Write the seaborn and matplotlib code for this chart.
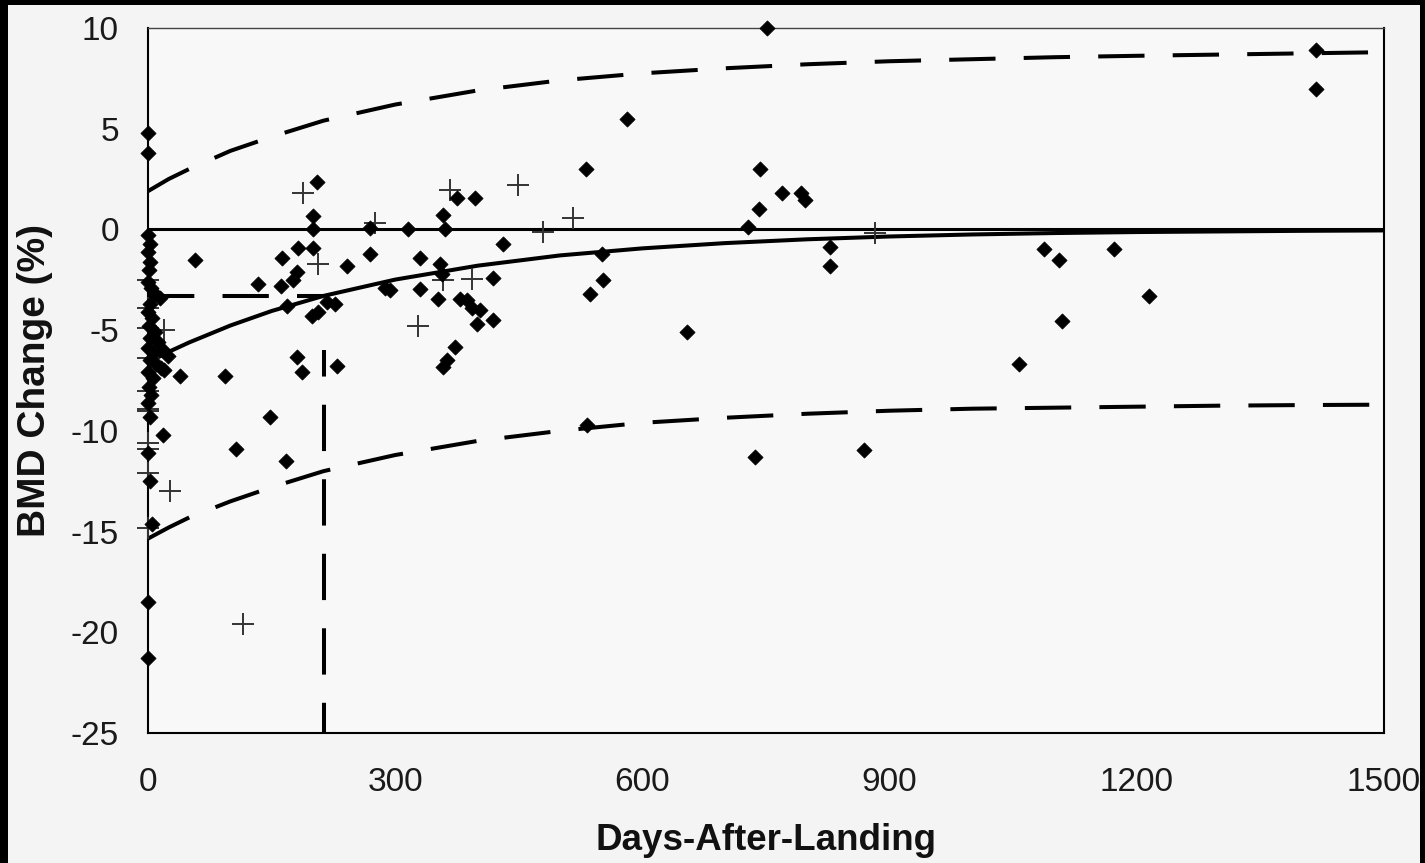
import matplotlib
matplotlib.use("Agg")
import matplotlib.pyplot as plt
import seaborn as sns
import pandas as pd
from matplotlib.patches import Rectangle

# ---- data ----
diamond_days = [0, 0, 0, 2, 0, 3, 1, 0, 4, 8, 14, 2, 0, 5, 1, 8, 3, 12, 0, 6, 18, 24, 2, 10, 16, 0, 6, 20,
                1, 4, 0, 2, 18, 0, 2, 5, 0, 0,
                39, 57, 93, 107, 133, 148, 162, 163, 167, 169, 176, 181, 181, 182, 187, 199, 200, 200, 200,
                205, 206, 217, 227, 229, 241, 270, 270, 288, 294, 316, 330, 330, 352, 354, 357, 358, 358,
                360, 363, 373, 375, 379, 387, 393, 397, 399, 403, 419, 419, 431, 532, 533, 536, 551, 552,
                581, 654, 728, 737, 741, 743, 751, 770, 793, 797, 828, 828, 869, 1057, 1087, 1106, 1109,
                1172, 1215, 1418, 1418]
diamond_bmd = [4.8, 3.8, -0.3, -0.7, -1.1, -1.6, -2.0, -2.6, -2.9, -3.2, -3.4, -3.7, -4.1, -4.4, -4.8, -5.1,
               -5.4, -5.6, -5.9, -6.1, -6.0, -6.3, -6.5, -6.7, -6.9, -7.1, -7.4, -7.0,
               -7.8, -8.2, -8.6, -9.3, -10.2, -11.1, -12.5, -14.6, -18.5, -21.3,
               -7.3, -1.5, -7.3, -10.9, -2.7, -9.3, -2.8, -1.4, -11.5, -3.8, -2.5, -2.1, -6.35, -0.9, -7.1,
               -4.3, -0.9, 0.0, 0.65, 2.35, -4.1, -3.6, -3.7, -6.8, -1.8, -1.2, 0.05, -2.9, -3.0, 0.0, -1.4,
               -2.95, -3.45, -1.7, -2.2, 0.7, -6.85, 0.0, -6.5, -5.85, 1.55, -3.45, -3.5, -3.9, 1.55, -4.7,
               -4.0, -2.4, -4.5, -0.7, 3.0, -9.7, -3.2, -1.2, -2.5, 5.5, -5.1, 0.1, -11.3, 1.0, 3.0, 10.0,
               1.8, 1.8, 1.45, -0.85, -1.8, -10.95, -6.7, -0.95, -1.5, -4.55, -0.95, -3.3, 8.9, 6.95]

plus_days = [0, 0, 0, 0, 0, 0, 0, 0, 0, 0, 0, 20, 27, 115, 188, 206, 276, 328, 358, 367, 393, 449, 479, 516, 882]
plus_bmd = [-2.5, -3.9, -4.9, -6.4, -8.0, -8.9, -9.0, -10.6, -10.9, -12.1, -14.8, -5.0, -13.0, -19.6, 1.8,
            -1.7, 0.3, -4.8, -2.5, 1.95, -2.45, 2.2, -0.15, 0.55, -0.2]

curve_days = [0, 25, 50, 100, 150, 213, 300, 400, 500, 600, 700, 800, 900, 1000, 1100, 1200, 1300, 1400, 1500]
fit_bmd = [-6.60, -6.08, -5.61, -4.77, -4.05, -3.30, -2.49, -1.80, -1.29, -0.94, -0.68, -0.49, -0.35, -0.25,
           -0.18, -0.13, -0.10, -0.07, -0.05]
upper_bmd = [1.9, 2.5, 3.0, 3.9, 4.6, 5.4, 6.2, 6.9, 7.4, 7.75, 8.0, 8.2, 8.35, 8.45, 8.55, 8.62, 8.68, 8.74, 8.8]
lower_bmd = [-15.35, -14.8, -14.3, -13.5, -12.8, -12.0, -11.2, -10.5, -10.0, -9.6, -9.35, -9.15, -9.0, -8.9,
             -8.85, -8.8, -8.75, -8.72, -8.7]

half_life_day = 213
half_value = -3.3
half_line_top = -6.0

x_ticks = [0, 300, 600, 900, 1200, 1500]
y_ticks = [10, 5, 0, -5, -10, -15, -20, -25]

# ---- figure ----
sns.set_style("white")
plt.rcParams['font.family'] = ['Liberation Sans', 'DejaVu Sans']

fig = plt.figure(figsize=(14.25, 8.63), dpi=100)
fig.patch.set_facecolor('black')
fig.add_artist(Rectangle((8 / 1425, 0), (1420 - 8) / 1425, (863 - 5) / 863,
                         transform=fig.transFigure, facecolor='#f4f4f4', edgecolor='none', zorder=-10))

ax = fig.add_axes([148 / 1425, 1 - 733 / 863, (1384 - 148) / 1425, (733 - 28) / 863])
ax.set_facecolor('#f8f8f8')

dia = pd.DataFrame({'day': diamond_days, 'bmd': diamond_bmd})
pls = pd.DataFrame({'day': plus_days, 'bmd': plus_bmd})
crv = pd.DataFrame({'day': curve_days, 'fit': fit_bmd, 'up': upper_bmd, 'lo': lower_bmd})

dash = (0, (11.5, 7))
ax.axhline(0, color='black', lw=2.2, zorder=2)
sns.lineplot(data=crv, x='day', y='up', ax=ax, color='black', lw=2.9, linestyle=dash, zorder=3)
sns.lineplot(data=crv, x='day', y='lo', ax=ax, color='black', lw=2.9, linestyle=dash, zorder=3)
sns.lineplot(data=crv, x='day', y='fit', ax=ax, color='black', lw=2.9, zorder=3)
ax.plot([0, half_life_day], [half_value, half_value], color='black', lw=2.9, linestyle=dash, zorder=3)
ax.plot([half_life_day, half_life_day], [-25, half_line_top], color='black', lw=2.9,
        linestyle=(4, (11.5, 7)), zorder=3)

sns.scatterplot(data=pls, x='day', y='bmd', ax=ax, marker='+', s=240, color='#333333',
                linewidth=1.4, zorder=4, clip_on=False)
sns.scatterplot(data=dia, x='day', y='bmd', ax=ax, marker='D', s=60, color='black',
                edgecolor='black', linewidth=0.5, zorder=5, clip_on=False)

ax.set_xlim(0, 1500)
ax.set_ylim(-25, 10)
ax.set_xticks(x_ticks)
ax.set_yticks(y_ticks)
ax.set_xticklabels([str(t) for t in x_ticks])
ax.set_yticklabels([str(t) for t in y_ticks])
ax.tick_params(axis='x', direction='out', length=8.5, width=1.5, pad=16, labelsize=24, colors='black')
ax.tick_params(axis='y', direction='out', length=9, width=1.5, pad=12, labelsize=24, colors='black')
ax.tick_params(axis='both', labelcolor='#1a1a1a')

for sp in ax.spines.values():
    sp.set_visible(True)
    sp.set_color('black')
    sp.set_linewidth(1.5)
ax.spines['top'].set_color('#444444')
ax.spines['top'].set_linewidth(1.0)

ax.set_xlabel('Days-After-Landing', fontsize=26.5, fontweight='bold', labelpad=18, color='#111111')
ax.set_ylabel('BMD Change (%)', fontsize=28, fontweight='bold', labelpad=13, color='#111111')

fig.savefig('out.png', dpi=100, facecolor=fig.get_facecolor())
